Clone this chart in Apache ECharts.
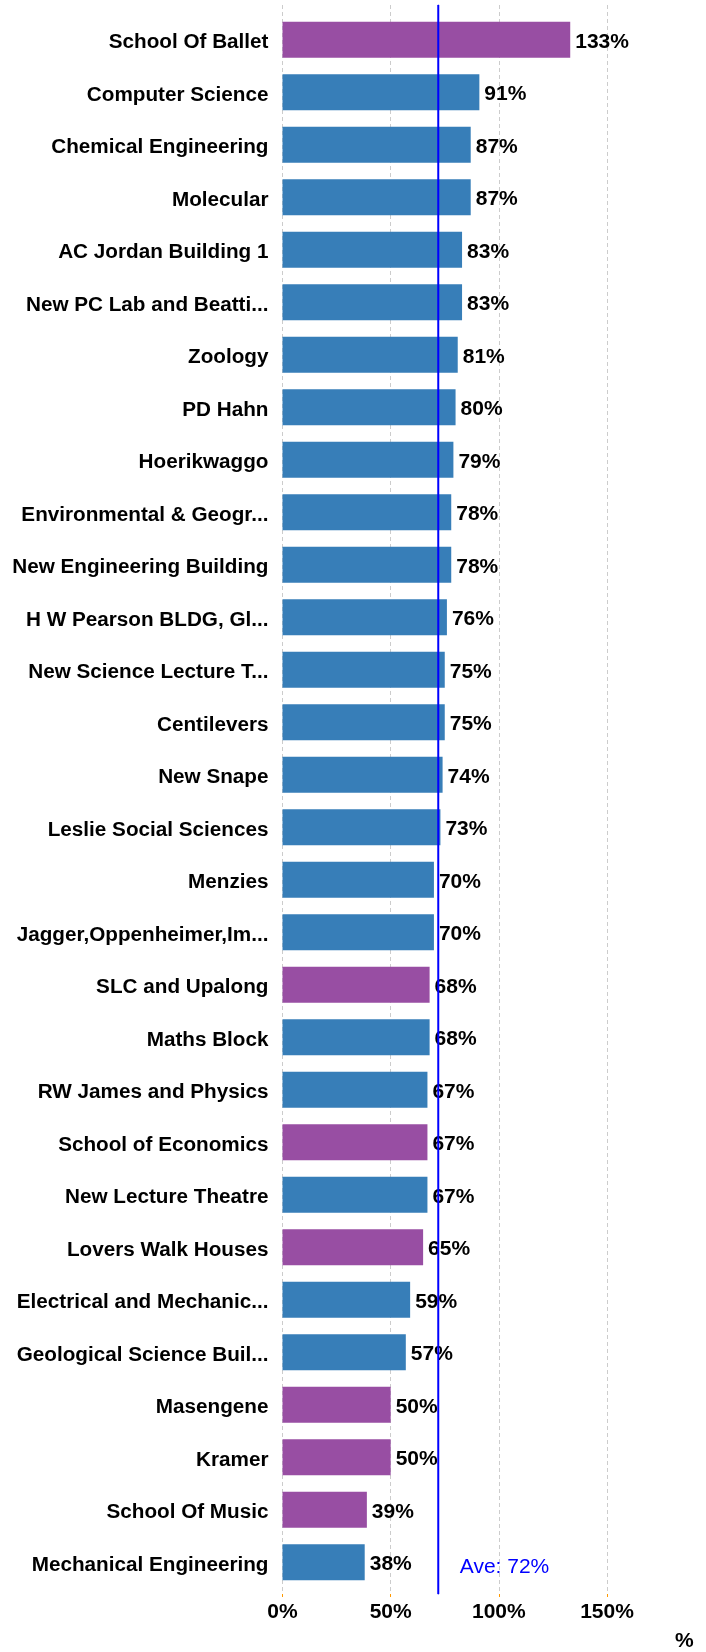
<!DOCTYPE html>
<html><head><meta charset="utf-8">
<script src="https://cdn.jsdelivr.net/npm/echarts@6/dist/echarts.min.js"></script>
<style>html,body{margin:0;padding:0;background:#fff}#c{width:706px;height:1652px}</style>
</head><body><div id="c"></div>
<script>
const categories = ["School Of Ballet","Computer Science","Chemical Engineering","Molecular","AC Jordan Building 1","New PC Lab and Beatti...","Zoology","PD Hahn","Hoerikwaggo","Environmental & Geogr...","New Engineering Building","H W Pearson BLDG, Gl...","New Science Lecture T...","Centilevers","New Snape","Leslie Social Sciences","Menzies","Jagger,Oppenheimer,Im...","SLC and Upalong","Maths Block","RW James and Physics","School of Economics","New Lecture Theatre","Lovers Walk Houses","Electrical and Mechanic...","Geological Science Buil...","Masengene","Kramer","School Of Music","Mechanical Engineering"];
const values = [133,91,87,87,83,83,81,80,79,78,78,76,75,75,74,73,70,70,68,68,67,67,67,65,59,57,50,50,39,38];
const groups = ["res","acad","acad","acad","acad","acad","acad","acad","acad","acad","acad","acad","acad","acad","acad","acad","acad","acad","res","acad","acad","res","acad","res","acad","acad","res","res","res","acad"];
const average = 72;
const xTicks = [0,50,100,150];

const colorMap = {res:'#984ea3', acad:'#377eb8'};
const FONT = "'Liberation Sans', Arial, sans-serif";
const FS = 21;
const chart = echarts.init(document.getElementById('c'));
const L = 282.5, R = 99;
chart.setOption({
  animation:false,
  grid:[
    {left:L, right:R, top:13.5, height:1575},
    {left:L, right:R, top:5, height:1593},
    {left:L, right:R, top:16.5, height:1575}
  ],
  xAxis:[
    {gridIndex:0, type:'value', min:xTicks[0], max:xTicks[xTicks.length-1], interval:50, show:false},
    {gridIndex:1, type:'value', min:xTicks[0], max:xTicks[xTicks.length-1], interval:50,
     axisLine:{show:false},
     axisTick:{show:true, length:3, lineStyle:{color:'#ff9900'}},
     axisLabel:{formatter:v=>v+'%', color:'#000', fontWeight:'bold', fontSize:FS, fontFamily:FONT, margin:8},
     splitLine:{show:true, lineStyle:{color:'#cccccc', type:[4,3], width:1}},
     name:'%', nameLocation:'end', nameGap:68,
     nameTextStyle:{color:'#000', fontWeight:'bold', fontSize:FS, fontFamily:FONT, verticalAlign:'top', padding:[37,0,0,0]}
    },
    {gridIndex:2, type:'value', min:xTicks[0], max:xTicks[xTicks.length-1], show:false}
  ],
  yAxis:[
    {gridIndex:0, type:'category', data:categories, inverse:true, show:false},
    {gridIndex:1, type:'value', min:0, max:1, show:false},
    {gridIndex:2, type:'category', data:categories, inverse:true,
     axisLine:{show:false}, axisTick:{show:false}, splitLine:{show:false},
     axisLabel:{color:'#000', fontWeight:'bold', fontSize:20.7, fontFamily:FONT, margin:14}}
  ],
  series:[
    {type:'bar', xAxisIndex:0, yAxisIndex:0, barWidth:36, z:2,
     data: values.map((v,i)=>({value:v, itemStyle:{color:colorMap[groups[i]]}})),
     label:{show:true, position:'right', distance:5, offset:[0,2], formatter:p=>p.value+'%', color:'#000', fontWeight:'bold', fontSize:FS, fontFamily:FONT}
    },
    {type:'line', xAxisIndex:1, yAxisIndex:1, z:10, symbol:'circle', symbolSize:1, showSymbol:true, silent:true,
     itemStyle:{color:'#0000ff'},
     lineStyle:{color:'#0000ff', width:2},
     data:[
       {value:[average,0], label:{show:true, formatter:'Ave: '+average+'%', position:'right', offset:[16,-27], color:'#0000ff', fontSize:FS, fontFamily:FONT}},
       [average,1]
     ]
    }
  ]
});
</script></body></html>
